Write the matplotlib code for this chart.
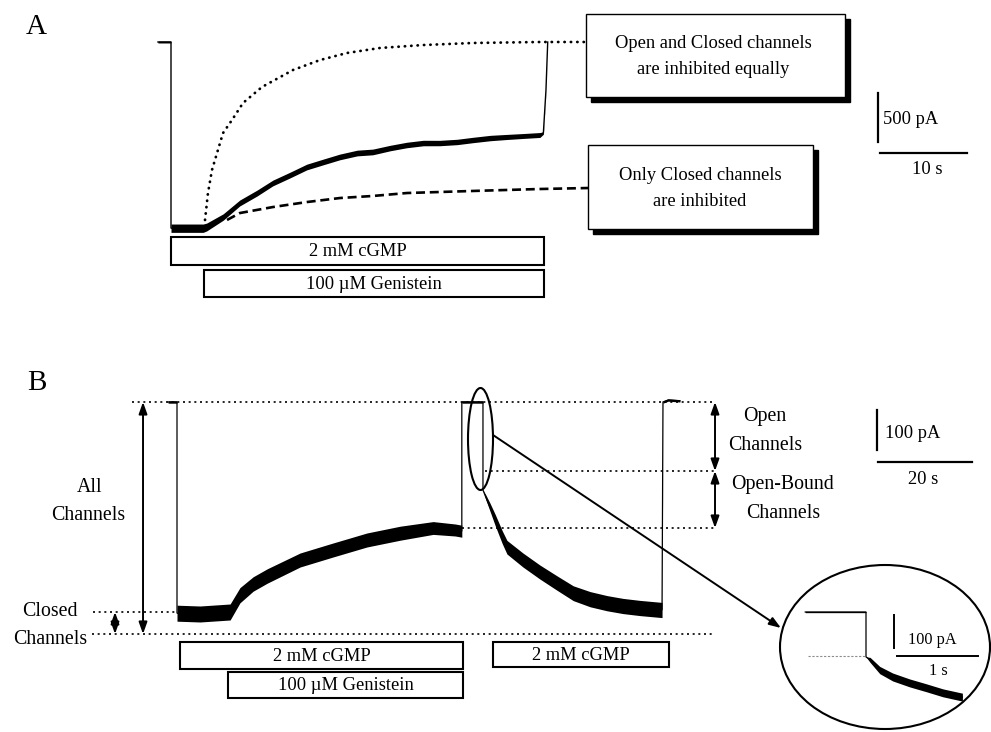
import numpy as np
import matplotlib
matplotlib.use("Agg")
import matplotlib.pyplot as plt
from matplotlib.patches import Rectangle, Ellipse, FancyArrowPatch
from matplotlib.transforms import blended_transform_factory

plt.rcParams['font.family'] = ['Liberation Serif', 'DejaVu Serif']

W, H = 991, 732

# ---------------- DATA ----------------
# Panel A: recorded current (s, pA) and noise band (pA peak-to-peak)
a_t = [-1.5, 0, 0, 3.7, 4.1, 6.0, 7.9, 9.9, 11.7, 13.7, 15.6, 17.5, 19.4, 21.4,
       23.2, 25.2, 27.1, 29.0, 30.9, 32.9, 34.7, 36.7, 38.6, 40.5, 42.4, 42.8, 43.1, 43.3]
a_i = [0, 0, -1900, -1900, -1888, -1786, -1643, -1541, -1439, -1357, -1276, -1224,
       -1173, -1133, -1122, -1082, -1051, -1031, -1031, -1020, -1000, -980, -969,
       -959, -949, -929, -490, 0]
a_noise = [20, 20, 85, 85, 80, 65, 60, 60, 58, 58, 58, 58, 58, 58, 58, 56, 56,
           56, 55, 55, 55, 55, 52, 50, 50, 25, 8, 0]

# Panel A predictions
a_open_t = [3.91, 4.25, 4.71, 5.29, 5.98, 7.01, 8.28, 10.46, 14.02, 17.13, 20.23,
            24.02, 28.97, 34.71, 42.41, 47.93]
a_open_i = [-1816, -1541, -1306, -1133, -929, -796, -622, -459, -286, -184, -112,
            -61, -31, -10, 0, 0]
a_closed_t = [6.44, 7.93, 11.72, 15.63, 19.43, 23.22, 27.13, 34.71, 42.41, 47.93]
a_closed_i = [-1816, -1745, -1684, -1633, -1592, -1571, -1541, -1520, -1500, -1490]

a_bar_labels = ["2 mM cGMP", "100 \u00b5M Genistein"]
a_bar_start = [0.0, 3.8]
a_bar_end = [42.9, 42.9]
a_scale_pa, a_scale_s = 500, 10
a_box_texts = [["Open and Closed channels", "are inhibited equally"],
               ["Only Closed channels", "are inhibited"]]

# Panel B: recorded current (s, pA)
b_t = [-1.9, 0, 0, 4.9, 11.3, 13.4, 16.2, 19.2, 26.2, 33.2, 40.4, 47.5, 54.5, 59.2,
       60.6, 60.6, 65.1, 65.1, 65.7, 66.6, 67.7, 69.2, 70.2, 73.6, 77.2, 80.9, 84.3,
       87.9, 91.5, 94.9, 98.5, 103.2, 103.4, 104.5, 107.0]
b_i = [0, 0, -528, -530, -525, -483, -455, -435, -395, -370, -345, -328, -315, -320,
       -323, 0, 0, -220, -238, -263, -295, -338, -363, -395, -425, -453, -478, -493,
       -503, -510, -515, -520, 0, 5, 3]
b_noise = [6, 6, 40, 40, 40, 38, 36, 36, 35, 35, 35, 35, 32, 30, 30, 6, 6, 0, 12, 20,
           28, 32, 34, 35, 35, 36, 37, 38, 38, 38, 38, 38, 6, 6, 6]

b_level_all = -580
b_level_closed = -525
b_level_open = -172.5
b_level_bound = -315

b_bar_labels = ["2 mM cGMP", "100 \u00b5M Genistein", "2 mM cGMP"]
b_bar_start = [0.64, 10.85, 67.2]
b_bar_end = [60.9, 60.9, 104.7]
b_scale_pa, b_scale_s = 100, 20

# Inset (zoom of the step)
in_t = [-0.75, 0, 0, 0.05, 0.17, 0.33, 0.54, 0.75, 0.95, 1.19]
in_i = [0, 0, -136, -145, -176, -197, -215, -230, -245, -258]
in_noise = [4, 4, 0, 15, 22, 24, 24, 24, 24, 24]
in_level = -133
in_scale_pa, in_scale_s = 100, 1

# ---------------- FIGURE ----------------
fig = plt.figure(figsize=(W / 100, H / 100), dpi=100)
fig.patch.set_facecolor('white')

ov = fig.add_axes([0, 0, 1, 1])
ov.set_xlim(0, W)
ov.set_ylim(H, 0)
ov.axis('off')


def mapped_axes(pl, pr, pt, pb, x0, sx, y0, sy):
    ax = fig.add_axes([pl / W, 1 - pb / H, (pr - pl) / W, (pb - pt) / H])
    ax.set_xlim((pl - x0) / sx, (pr - x0) / sx)
    ax.set_ylim(-(pb - y0) / sy, -(pt - y0) / sy)
    ax.axis('off')
    ax.patch.set_alpha(0)
    return ax


def draw_trace(ax, t, i, n, lw=0.9):
    t = np.asarray(t, float)
    i = np.asarray(i, float)
    n = np.asarray(n, float)
    ax.fill_between(t, i - n / 2, i + n / 2, color='k', lw=0)
    ax.plot(t, i, color='k', lw=lw, solid_joinstyle='miter')


def bars(ax, labels, starts, ends, tops, bots, fs):
    tr = blended_transform_factory(ax.transData, ov.transData)
    for lab, s, e, tp, bt in zip(labels, starts, ends, tops, bots):
        ax.add_patch(Rectangle((s, tp), e - s, bt - tp, transform=tr, fc='white',
                               ec='k', lw=1.5, clip_on=False))
        ax.text((s + e) / 2, (tp + bt) / 2 + 1, lab, transform=tr, ha='center',
                va='center', fontsize=fs, clip_on=False)


def dbl_arrow(ax, x, y1, y2):
    ax.add_patch(FancyArrowPatch((x, y1), (x, y2),
                                 arrowstyle='<|-|>,head_length=7,head_width=2.5',
                                 mutation_scale=1, lw=1.4, color='k',
                                 shrinkA=0, shrinkB=0, clip_on=False))


# ---------- Panel A ----------
axA = mapped_axes(140, 990, 0, 245, 171, 8.7, 42, 0.098)
draw_trace(axA, a_t, a_i, a_noise, lw=1.0)
axA.plot(a_open_t, a_open_i, color='k', lw=2.0, linestyle=(0, (0.1, 2.2)),
         dash_capstyle='round', clip_on=False)
axA.plot(a_closed_t, a_closed_i, color='k', lw=1.9, linestyle=(0, (3.4, 1.8)),
         clip_on=False)
bars(axA, a_bar_labels, a_bar_start, a_bar_end, [237, 270], [265, 297], 13.3)

# scale bar A
sbx, sby = 81.3, -520
axA.plot([sbx, sbx], [sby, sby - a_scale_pa], color='k', lw=1.6, clip_on=False)
axA.plot([81.5, 81.5 + a_scale_s], [-1133, -1133], color='k', lw=1.6, clip_on=False)
ov.text(883, 119, f"{a_scale_pa} pA", ha='left', va='center', fontsize=13.3)
ov.text(927, 169, f"{a_scale_s} s", ha='center', va='center', fontsize=13.3)

# callout boxes
def callout(l, r, t, b, lines, cx, ys, dx=5, dy=5):
    ov.add_patch(Rectangle((l + dx, t + dy), r - l, b - t, fc='k', ec='k', lw=1))
    ov.add_patch(Rectangle((l, t), r - l, b - t, fc='white', ec='k', lw=1.0))
    for txt, y in zip(lines, ys):
        ov.text(cx, y, txt, ha='center', va='center', fontsize=13.3)

callout(586, 845, 14, 97, a_box_texts[0], 713, [43, 70])
callout(588, 813, 145, 229, a_box_texts[1], 700, [175, 202])

ov.text(36, 27, "A", ha='center', va='center', fontsize=21)
ov.text(37, 383, "B", ha='center', va='center', fontsize=21)

# ---------- Panel B ----------
axB = mapped_axes(80, 990, 380, 645, 177, 4.7, 402, 0.4)
draw_trace(axB, b_t, b_i, b_noise, lw=0.9)

dot = dict(color='k', lw=1.2, linestyle=(0, (1.2, 2.2)), clip_on=False)
axB.plot([-9.57, 114.5], [0, 0], **dot)
axB.plot([65.5, 114.5], [b_level_open, b_level_open], **dot)
axB.plot([60.6, 114.5], [b_level_bound, b_level_bound], **dot)
axB.plot([-17.9, 0.2], [b_level_closed, b_level_closed], **dot)
axB.plot([-18.1, 114.5], [b_level_all, b_level_all], **dot)

dbl_arrow(axB, -7.23, 0, b_level_all)
dbl_arrow(axB, -13.19, b_level_closed, b_level_all)
dbl_arrow(axB, 114.47, 0, b_level_open)
dbl_arrow(axB, 114.47, b_level_open, b_level_bound)

bars(axB, b_bar_labels, b_bar_start, b_bar_end, [642, 672, 642], [669, 698, 667], 13.3)

# scale bar B
axB.plot([148.9, 148.9], [-20, -20 - b_scale_pa], color='k', lw=1.6, clip_on=False)
axB.plot([149.15, 149.15 + b_scale_s], [-150, -150], color='k', lw=1.6, clip_on=False)
ov.text(885, 433, f"{b_scale_pa} pA", ha='left', va='center', fontsize=13.3)
ov.text(923, 480, f"{b_scale_s} s", ha='center', va='center', fontsize=13.3)

# labels B
for txt, x, y in [("All", 90, 487), ("Channels", 88, 515), ("Closed", 50, 611),
                  ("Channels", 50, 639), ("Open", 765, 417), ("Channels", 765, 445),
                  ("Open-Bound", 782, 485), ("Channels", 783, 513)]:
    ov.text(x, y, txt, ha='center', va='center', fontsize=14.3)

# highlight ellipse + zoom line + big circle
ov.add_patch(Ellipse((480.5, 439), 25, 102, fill=False, ec='k', lw=1.5))
ov.add_patch(FancyArrowPatch((493, 435), (781, 628),
                             arrowstyle='-|>,head_length=7,head_width=2.5',
                             mutation_scale=1, lw=1.4, color='k',
                             shrinkA=0, shrinkB=0))
ov.add_patch(Ellipse((885, 647), 210, 164, fill=False, ec='k', lw=1.5))

# ---------- Inset ----------
axI = mapped_axes(790, 990, 580, 725, 866, 81, 612, 0.33)
draw_trace(axI, in_t, in_i, in_noise, lw=0.9)
axI.plot([-0.716, 0], [in_level, in_level], color='0.55', lw=0.8,
         linestyle=(0, (2, 1.5)))
axI.plot([0.346, 0.346], [-9, -9 - in_scale_pa], color='k', lw=1.4, clip_on=False)
axI.plot([0.383, 0.383 + in_scale_s], [in_level, in_level], color='k', lw=1.4,
         clip_on=False)
ov.text(908, 640, f"{in_scale_pa} pA", ha='left', va='center', fontsize=11.7)
ov.text(938, 671, f"{in_scale_s} s", ha='center', va='center', fontsize=11.7)

fig.savefig("out.png", dpi=100)
